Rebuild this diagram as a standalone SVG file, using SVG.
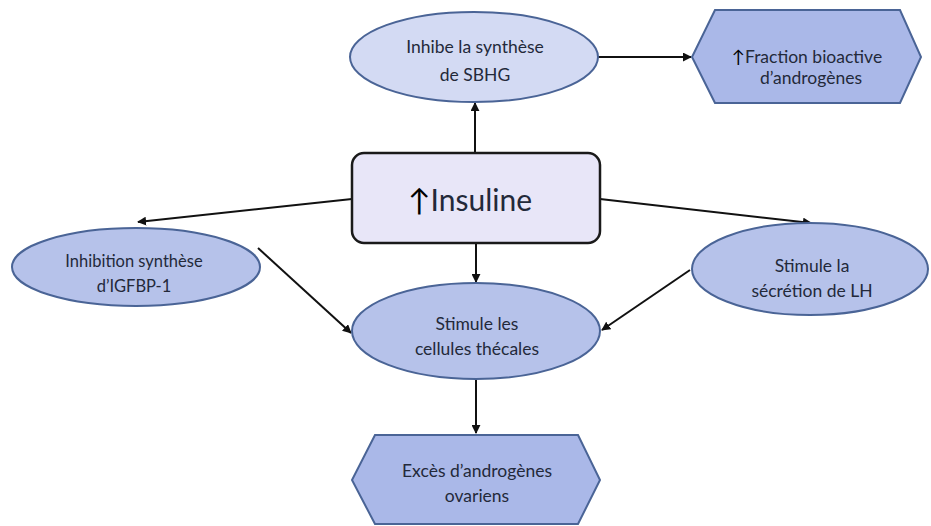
<svg xmlns="http://www.w3.org/2000/svg" width="931" height="526" viewBox="0 0 931 526">
<defs>
<marker id="ah" viewBox="0 0 10 10" refX="9" refY="5" markerWidth="4.5" markerHeight="4.5" orient="auto" markerUnits="strokeWidth">
<path d="M0,0 L10,5 L0,10 z" fill="#111"/>
</marker>
<style>
.conn line{stroke:#111;stroke-width:2;marker-end:url(#ah);}
.ell{stroke:#4a6496;stroke-width:2;}
.light{fill:#d3daf3;}
.mid{fill:#b6c2ea;}
.hex{fill:#aab8e8;stroke:#4a6496;stroke-width:2;}
.t{font-family:Lato,"Open Sans",sans-serif;font-size:17.5px;fill:#23293a;text-anchor:middle;}
.up{fill:#000;}
</style>
</defs>
<rect width="931" height="526" fill="#fff"/>
<g class="conn">
<line x1="475" y1="153" x2="475" y2="103"/>
<line x1="598" y1="57" x2="691" y2="57"/>
<line x1="352" y1="199" x2="138" y2="222"/>
<line x1="600" y1="199" x2="811" y2="223"/>
<line x1="476" y1="243" x2="476" y2="282"/>
<line x1="258" y1="248" x2="351" y2="333"/>
<line x1="690" y1="270" x2="602" y2="330"/>
<line x1="476" y1="380" x2="476" y2="433"/>
</g>
<g id="n-sbhg">
<ellipse class="ell light" cx="474" cy="57" rx="124" ry="45"/>
<text class="t" x="475" y="53">Inhibe la synthèse</text>
<text class="t" x="475" y="81">de SBHG</text>
</g>
<g id="n-fraction">
<polygon class="hex" points="715,10 900,10 921,57 900,103 715,103 692,57"/>
<text class="t" x="807" y="63"><tspan class="up">↑</tspan>Fraction bioactive</text>
<text class="t" x="811" y="84">d’androgènes</text>
</g>
<g id="n-insuline">
<rect x="352" y="153" width="248" height="90" rx="12" fill="#e8e6f8" stroke="#1a1a1a" stroke-width="2.5"/>
<text class="t" x="470" y="211" style="font-size:30px"><tspan class="up">↑</tspan>Insuline</text>
</g>
<g id="n-igfbp">
<ellipse class="ell mid" cx="136" cy="267" rx="124" ry="39"/>
<text class="t" x="134" y="267" style="font-size:16.5px">Inhibition synthèse</text>
<text class="t" x="134" y="292" style="font-size:16.5px">d’IGFBP-1</text>
</g>
<g id="n-lh">
<ellipse class="ell mid" cx="810" cy="269" rx="118" ry="46"/>
<text class="t" x="812" y="272">Stimule la</text>
<text class="t" x="812" y="297">sécrétion de LH</text>
</g>
<g id="n-thecales">
<ellipse class="ell mid" cx="476" cy="331" rx="124" ry="48"/>
<text class="t" x="477" y="330">Stimule les</text>
<text class="t" x="477" y="355">cellules thécales</text>
</g>
<g id="n-exces">
<polygon class="hex" points="375,435 578,435 600,480 578,524 375,524 352,480"/>
<text class="t" x="477" y="477">Excès d’androgènes</text>
<text class="t" x="477" y="502">ovariens</text>
</g>
</svg>
